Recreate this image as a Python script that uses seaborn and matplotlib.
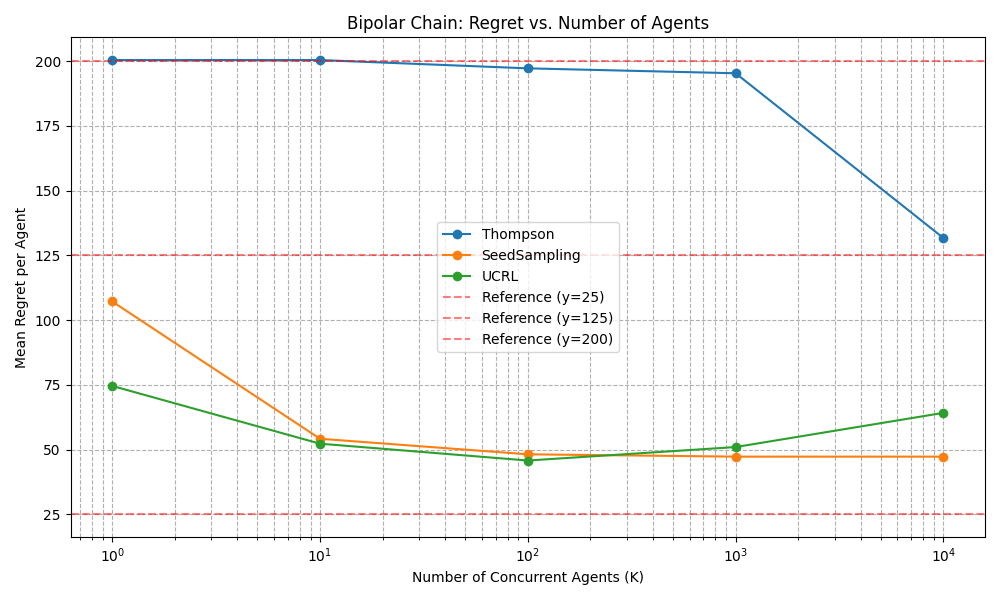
import matplotlib
matplotlib.use('Agg')
import matplotlib.pyplot as plt
import pandas as pd
import seaborn as sns

# values
agents = [1, 10, 100, 1000, 10000]
thompson = [200.4, 200.4, 197.2, 195.3, 131.7]
seed_sampling = [107.2, 54.2, 48.2, 47.3, 47.3]
ucrl = [74.6, 52.3, 45.8, 51.0, 64.2]
ref_levels = [25, 125, 200]

df = pd.DataFrame({
    'K': agents * 3,
    'regret': thompson + seed_sampling + ucrl,
    'algo': ['Thompson'] * 5 + ['SeedSampling'] * 5 + ['UCRL'] * 5,
})

fig, ax = plt.subplots(figsize=(10, 6), dpi=100)
sns.lineplot(data=df, x='K', y='regret', hue='algo', marker='o',
             markeredgewidth=0, markersize=7, palette='tab10', ax=ax)

for y in ref_levels:
    ax.axhline(y, color='red', linestyle='--', alpha=0.5,
               label=f'Reference (y={y})')

ax.set_xscale('log')
ax.set_xlabel('Number of Concurrent Agents (K)')
ax.set_ylabel('Mean Regret per Agent')
ax.set_title('Bipolar Chain: Regret vs. Number of Agents')
ax.grid(True, which='both', linestyle='--', linewidth=0.8, color='#b0b0b0')
ax.legend(loc='best')

plt.tight_layout()
fig.savefig('out.png')
